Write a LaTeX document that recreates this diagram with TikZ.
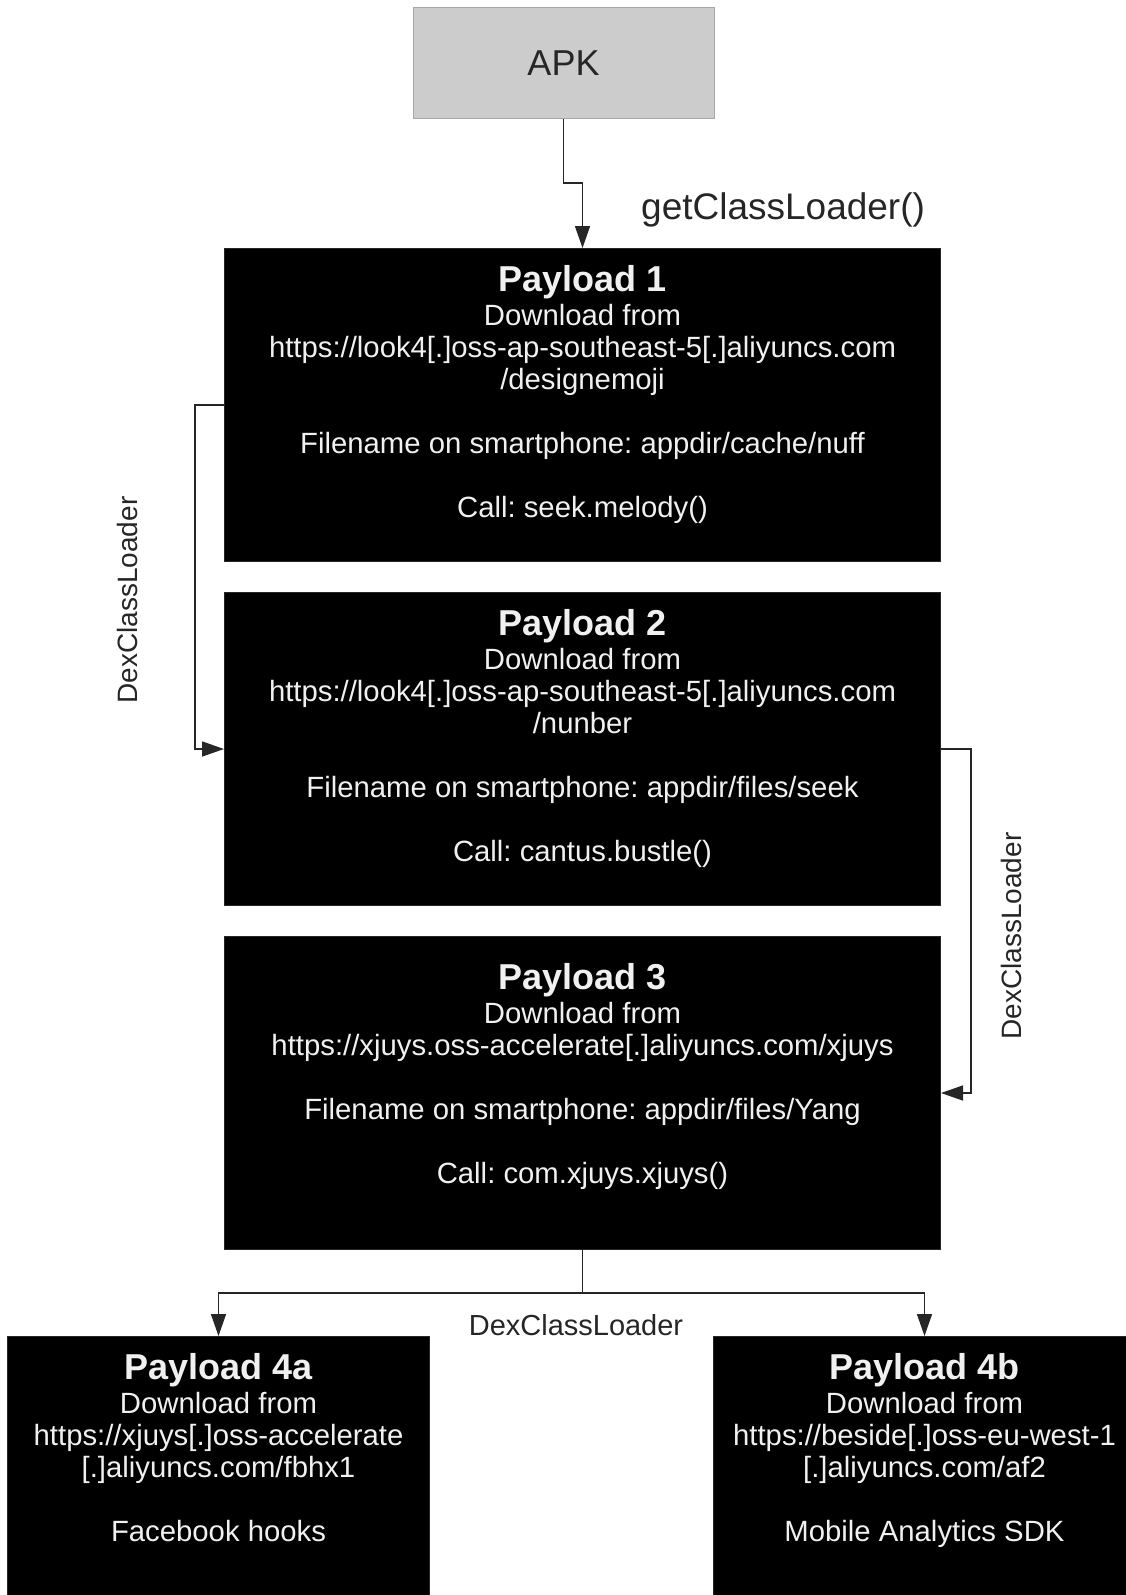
\documentclass[tikz,border=0pt]{standalone}
\usepackage{fontspec}
\setmainfont{Liberation Sans}
\usetikzlibrary{arrows.meta}
\frenchspacing
\begin{document}
\begin{tikzpicture}[x=1pt,y=-1pt,
  pbox/.style={draw=black!85, fill=black, line width=1pt, minimum width=716pt, minimum height=313pt, inner sep=0pt, anchor=north west},
  sbox/.style={pbox, minimum width=422pt, minimum height=320pt},
  ptext/.style={text=white!94!black, align=center, font=\fontsize{29.3}{32}\selectfont, inner sep=0pt, anchor=north},
  conn/.style={draw=black!85, line width=1.5pt, -{Triangle[length=22pt,width=15pt]}},
  plain/.style={draw=black!85, line width=1.5pt},
  lbl/.style={text=black!85, inner sep=0pt, font=\fontsize{28}{30}\selectfont}]
\useasboundingbox (0,0) rectangle (1126,1595);
\clip (0,0) rectangle (1126,1595);
\newcommand{\ptitle}[1]{{\fontsize{36}{36}\selectfont\bfseries #1}\\[2pt]}

\node[draw=black!35, fill=black!20, line width=1pt, minimum width=301pt, minimum height=110pt, inner sep=0pt,
      font=\fontsize{36}{38}\selectfont, text=black!85] (apk) at (563.5,63) {APK};

\node[pbox] (p1) at (224,248) {};
\node[pbox] (p2) at (224,592) {};
\node[pbox] (p3) at (224,936) {};
\node[sbox] (p4a) at (7,1336) {};
\node[sbox] (p4b) at (713,1336) {};

\node[ptext] (t1) at ([yshift=-17pt]p1.north) {\ptitle{Payload 1}Download from\\https://look4[.]oss-ap-southeast-5[.]aliyuncs.com\\/designemoji\\[32pt]Filename on smartphone: appdir/cache/nuff\\[32pt]Call: seek.melody()};
\node[ptext] (t2) at ([yshift=-17pt]p2.north) {\ptitle{Payload 2}Download from\\https://look4[.]oss-ap-southeast-5[.]aliyuncs.com\\/nunber\\[32pt]Filename on smartphone: appdir/files/seek\\[32pt]Call: cantus.bustle()};
\node[ptext] (t3) at ([yshift=-27pt]p3.north) {\ptitle{Payload 3}Download from\\https://xjuys.oss-accelerate[.]aliyuncs.com/xjuys\\[32pt]Filename on smartphone: appdir/files/Yang\\[32pt]Call: com.xjuys.xjuys()};
\node[ptext] (t4a) at ([yshift=-17pt]p4a.north) {\ptitle{Payload 4a}Download from\\https://xjuys[.]oss-accelerate\\{}[.]aliyuncs.com/fbhx1\\[32pt]Facebook hooks};
\node[ptext] (t4b) at ([yshift=-17pt]p4b.north) {\ptitle{Payload 4b}Download from\\https://beside[.]oss-eu-west-1\\{}[.]aliyuncs.com/af2\\[32pt]Mobile Analytics SDK};

\node[lbl, anchor=base west, font=\fontsize{37}{39}\selectfont] (gcl) at (641,219) {getClassLoader()};
\node[lbl, rotate=90] (dcl1) at (127,600) {DexClassLoader};
\node[lbl, rotate=90] (dcl2) at (1011,936) {DexClassLoader};
\node[lbl, anchor=base, font=\fontsize{29}{31}\selectfont] (dcl3) at (576,1335) {DexClassLoader};

\draw[conn] (apk.south) -- (apk.south |- 0,183) -- (p1.north |- 0,183) -- (p1.north);
\draw[conn] (p1.west) -- ++(-29,0) |- (p2.west);
\draw[conn] (p2.east) -- ++(30,0) |- (p3.east);
\draw[plain] (p3.south) -- ++(0,43) coordinate (split);
\draw[conn] (split) -| (p4a.north);
\draw[conn] (split) -| (p4b.north);
\end{tikzpicture}
\end{document}
